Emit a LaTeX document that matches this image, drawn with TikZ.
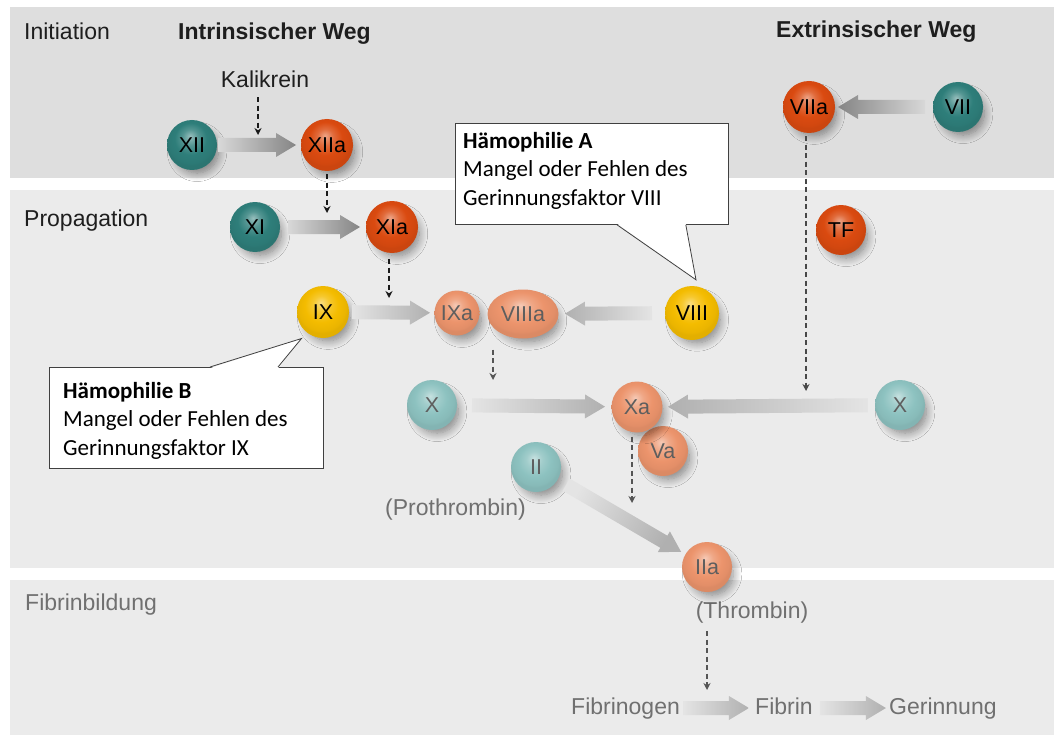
\documentclass[tikz,border=0pt]{standalone}
\usepackage{fontspec}
\setmainfont{Liberation Sans}
\newfontfamily\calloutfont{Carlito}
\usetikzlibrary{calc,arrows.meta,shapes.geometric,shadows.blur}

\definecolor{tealc}{HTML}{2E7E7A}
\definecolor{orangec}{HTML}{DA4A10}
\definecolor{yellowc}{HTML}{F4BC00}
\definecolor{salmonc}{HTML}{EC946C}
\definecolor{lteal}{HTML}{8DC2C0}
\definecolor{bandA}{HTML}{DEDEDE}
\definecolor{bandB}{HTML}{EBEBEB}
\definecolor{txtdark}{HTML}{1E1E1E}
\definecolor{txtgray}{HTML}{707070}
\definecolor{fadetxt}{HTML}{5E5E5E}
\definecolor{arrTailA}{HTML}{D8D8D8}
\definecolor{arrHeadA}{HTML}{858585}
\definecolor{arrTailB}{HTML}{E4E4E4}
\definecolor{arrHeadB}{HTML}{B0B0B0}
\definecolor{callline}{HTML}{404040}
\definecolor{dashdark}{HTML}{1A1A1A}
\definecolor{dashgray}{HTML}{555555}

\colorlet{glc}{gray}
\pgfdeclareradialshading[glc]{glossy}{\pgfpoint{-2bp}{9bp}}{color(0bp)=(glc!50!white); color(8bp)=(glc!82!white); color(16bp)=(glc); color(23bp)=(glc!96!black); color(25bp)=(glc!93!black); color(50bp)=(glc!93!black)}

\tikzset{
  glossy/.code={\colorlet{glc}{#1}\tikzset{shade,shading=glossy}},
  ball/.style={circle, inner sep=0pt, minimum size=50pt, text=black,
    font=\fontsize{21.5}{24}\selectfont,
    blur shadow={shadow xshift=6pt, shadow yshift=-8pt, shadow scale=0.85, shadow blur radius=10pt, shadow blur steps=12, shadow opacity=45}},
  fball/.style={ball, text=fadetxt},
  lbl/.style={inner sep=0pt, text height=17pt, text depth=5pt, font=\fontsize{23}{27}\selectfont, text=txtdark},
  glbl/.style={lbl, text=txtgray},
  blbl/.style={lbl, font=\fontsize{23}{27}\selectfont\bfseries},
  dasharrowK/.style={draw=dashdark, line width=1.3pt, dash pattern=on 5pt off 3.5pt, -{Stealth[length=7pt,width=7pt]}},
  dasharrowG/.style={dasharrowK, draw=dashgray},
  callbox/.style={rectangle, draw=callline, fill=white, line width=0.8pt, inner sep=0pt, anchor=north west},
  calltext/.style={inner sep=0pt, anchor=north west, align=left, font=\calloutfont\fontsize{23}{28.7}\selectfont, text=black},
}

% fat shaded arrow between two nodes: #1 from, #2 to, #3 tail gap, #4 head gap, #5 tail colour, #6 head colour, #7 shading angle
\newcommand\fatarrow[7]{%
  \coordinate (fat) at ($(#1)!#3!(#2)$);
  \coordinate (fah) at ($(#2)!#4!(#1)$);
  \coordinate (fab) at ($(fah)!20pt!(fat)$);
  \shade[top color=#5, bottom color=#6, shading angle=#7]
    ($(fat)!7pt!90:(fah)$) -- ($(fab)!7pt!90:(fah)$) -- ($(fab)!12pt!90:(fah)$) -- (fah)
    -- ($(fab)!12pt!-90:(fah)$) -- ($(fab)!7pt!-90:(fah)$) -- ($(fat)!7pt!-90:(fah)$) -- cycle;}

\begin{document}
\begin{tikzpicture}[x=1pt,y=-1pt]
\useasboundingbox (0,0) rectangle (1054,738);
\fill[white] (0,0) rectangle (1054,738);
\fill[bandA] (10,7) rectangle (1054,178);
\fill[bandB] (10,190) rectangle (1054,568);
\fill[bandB] (10,580) rectangle (1054,735);

% section labels
\node[lbl, anchor=base west] (initL) at (24,40) {Initiation};
\node[blbl, anchor=base west] (intrL) at (178,40) {Intrinsischer Weg};
\node[blbl, anchor=base west] (extrL) at (776,38) {Extrinsischer Weg};
\node[lbl, anchor=base] (Kal) at (265,88) {Kalikrein};
\node[lbl, anchor=base west] (propL) at (24,226) {Propagation};
\node[glbl, anchor=base west] (fibL) at (25,610) {Fibrinbildung};
\node[glbl, anchor=base west] (proth) at (385,515) {(Prothrombin)};
\node[glbl, anchor=base] (Thr) at (752,618) {(Thrombin)};
\node[glbl, anchor=base west] (Fibrinogen) at (571,714) {Fibrinogen};
\node[glbl, anchor=base west] (Fibrin) at (755,714) {Fibrin};
\node[glbl, anchor=base west] (Gerinnung) at (889,714) {Gerinnung};

% factors
\node[ball, glossy=tealc] (XII) at (192,145) {XII};
\node[ball, glossy=orangec, minimum size=52pt] (XIIa) at (327,145) {XIIa};
\node[ball, glossy=orangec, minimum size=52pt] (VIIa) at (809,107) {VIIa};
\node[ball, glossy=tealc] (VII) at (958,107) {VII};
\node[ball, glossy=tealc] (XI) at (255,227) {XI};
\node[ball, glossy=orangec, minimum size=52pt] (XIa) at (392,227) {XIa};
\node[ball, glossy=orangec] (TF) at (841,230) {TF};
\node[ball, glossy=yellowc, minimum size=52pt] (IX) at (323,312) {IX};
\node[fball, glossy=salmonc, minimum size=45pt] (IXa) at (457,313) {IXa};
\node[fball, ellipse, glossy=salmonc, minimum width=71pt, minimum height=49pt] (VIIIa) at (523,314) {VIIIa};
\node[ball, glossy=yellowc, minimum size=54pt] (VIII) at (692,313) {VIII};
\node[fball, glossy=lteal] (Xl) at (432,405) {X};
\node[fball, glossy=salmonc] (Va) at (663,451) {Va};
\node[fball, glossy=salmonc, minimum size=51pt] (Xa) at (637,407) {Xa};
\node[fball, glossy=lteal] (Xr) at (900,405) {X};
\node[fball, glossy=lteal] (II) at (536,467) {II};
\node[fball, glossy=salmonc] (IIa) at (707,567) {IIa};

% fat arrows
\fatarrow{XII}{XIIa}{26pt}{31pt}{arrTailA}{arrHeadA}{90}
\fatarrow{XI}{XIa}{33pt}{32pt}{arrTailA}{arrHeadA}{90}
\fatarrow{VII}{VIIa}{33pt}{29pt}{arrTailA}{arrHeadA}{270}
\fatarrow{IX}{IXa}{29pt}{27pt}{arrTailB}{arrHeadB}{90}
\fatarrow{VIII}{VIIIa}{40pt}{42pt}{arrTailB}{arrHeadB}{270}
\fatarrow{Xl}{Xa}{40pt}{32pt}{arrTailB}{arrHeadB}{90}
\fatarrow{Xr}{Xa}{32pt}{31pt}{arrTailB}{arrHeadB}{270}
\fatarrow{II}{IIa}{35pt}{30pt}{arrTailB}{arrHeadB}{59.7}
\fatarrow{Fibrinogen}{Fibrin}{58pt}{35pt}{arrTailB}{arrHeadB}{90}
\fatarrow{Fibrin}{Gerinnung}{36pt}{57pt}{arrTailB}{arrHeadB}{90}

% dashed activation arrows
\coordinate (kalE) at (258,135);
\draw[dasharrowK] ($(Kal.south -| kalE)+(0,4)$) -- (kalE);
\coordinate (xiiaE) at (327,213);
\draw[dasharrowK] ($(XIIa.south -| xiiaE)+(0,3)$) -- (xiiaE);
\coordinate (xiaE) at (389,298);
\draw[dasharrowK] ($(XIa.south -| xiaE)+(0,6)$) -- (xiaE);
\coordinate (viiiaE) at (493,380);
\draw[dasharrowG] ($(VIIIa.south -| viiiaE)+(0,11)$) -- (viiiaE);
\coordinate (viiaE) at (806,391);
\draw[dasharrowG, draw=dashdark!80] ($(VIIa.south -| viiaE)+(0,3)$) -- (viiaE);
\coordinate (xaE) at (632,503);
\draw[dasharrowG] ($(Xa.south -| xaE)+(0,4)$) -- (xaE);
\coordinate (thrE) at (707,690);
\draw[dasharrowG] ($(Thr.south -| thrE)+(0,8)$) -- (thrE);

% callout A
\node[callbox, minimum width=273pt, minimum height=101pt] (cA) at (455,123) {};
\coordinate (cAtip) at ($(VIII.north)+(4,-6)$);
\fill[white] ($(cA.south west)+(162,-1.2)$) -- (cAtip) -- ($(cA.south east)+(-43,-1.2)$) -- cycle;
\draw[draw=callline, line width=0.8pt] ($(cA.south west)+(162,0)$) -- (cAtip) -- ($(cA.south east)+(-43,0)$);
\node[calltext] (cAtext) at (463,130) {\rule{0pt}{18pt}\textbf{Hämophilie A}\\Mangel oder Fehlen des\\Gerinnungsfaktor VIII};

% callout B
\node[callbox, minimum width=274pt, minimum height=101pt] (cB) at (49,367) {};
\coordinate (cBtip) at ($(IX.south west)+(-3,8)$);
\fill[white] ($(cB.north west)+(161,1.2)$) -- (cBtip) -- ($(cB.north west)+(229,1.2)$) -- cycle;
\draw[draw=callline, line width=0.8pt] ($(cB.north west)+(161,0)$) -- (cBtip) -- ($(cB.north west)+(229,0)$);
\node[calltext] (cBtext) at (63,380) {\rule{0pt}{18pt}\textbf{Hämophilie B}\\Mangel oder Fehlen des\\Gerinnungsfaktor IX};
\end{tikzpicture}
\end{document}
